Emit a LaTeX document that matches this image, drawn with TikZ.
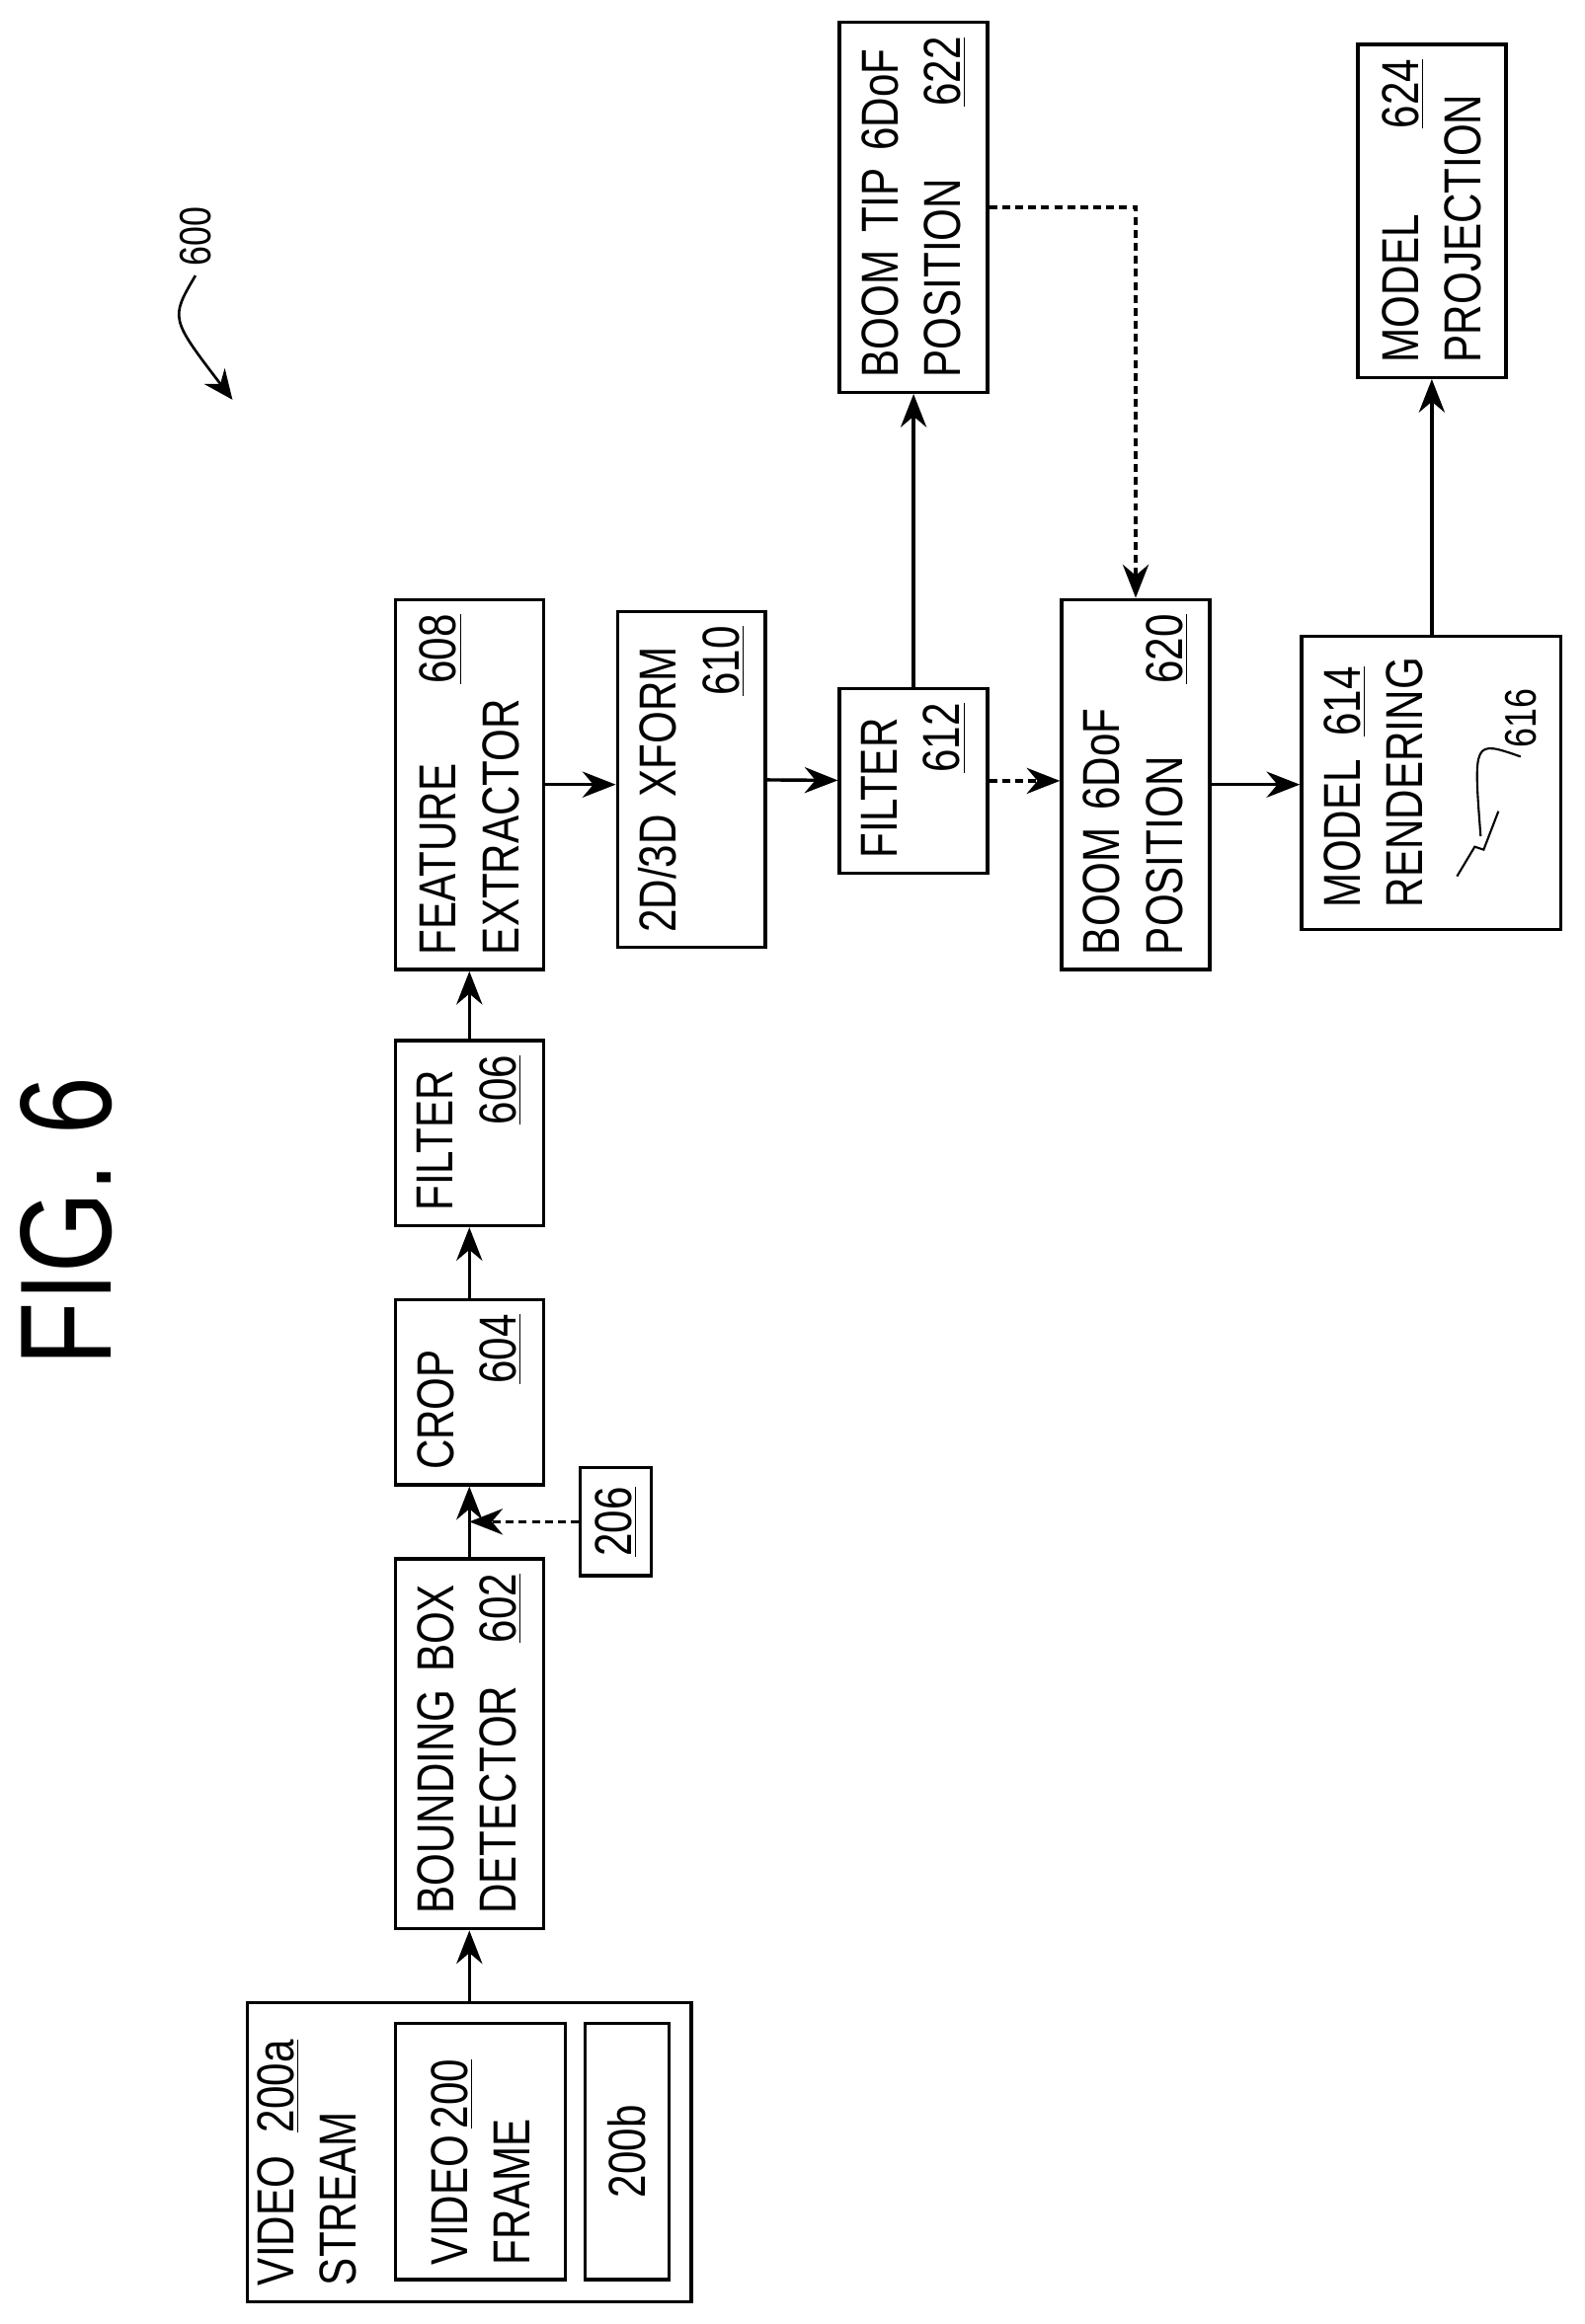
\documentclass[tikz,border=0pt]{standalone}
\usepackage{fontspec}
\setmainfont[FakeStretch=0.8]{Liberation Sans}
\usetikzlibrary{arrows.meta,positioning,calc}
\newcommand{\fs}{\fontsize{20}{24}\selectfont}
\newcommand{\un}[1]{\underline{#1}}
\tikzset{
  box/.style={draw,line width=1.3pt,rotate=90,align=left,font=\fs,inner sep=0.2cm},
  flow/.style={line width=1.3pt,-{Stealth[length=0.45cm,width=0.35cm]}},
  dflow/.style={flow,dash pattern=on 3pt off 2pt},
}
\begin{document}
\begin{tikzpicture}[x=0.02cm,y=0.02cm]
  \useasboundingbox (0,0) rectangle (1070,-1570);
  % figure label
  \node[rotate=90,font=\fontsize{50}{56}\selectfont] (fig) at (45,-825) {FIG. 6};
  \node[rotate=90,font=\fontsize{17}{20}\selectfont] (ref600) at (132,-160) {600};
  \coordinate (p600) at (157,-270);
  \draw[line width=1pt,-{Stealth[length=0.4cm,width=0.35cm]}] (ref600.west) .. controls (115,-215) .. (p600);

  % video stream
  \node[box,minimum width=4.04cm,minimum height=6cm] (vs) at (317,-1454) {};
  \node[rotate=90,font=\fs,align=left,text width=3.6cm,anchor=north,inner sep=0.15cm] (vst) at (vs.north)
    {VIDEO\hfill\un{200a}\phantom{x}\\STREAM};
  \node[box,text width=3.06cm,minimum height=2.3cm] (vf) at (324.5,-1453.5)
    {VIDEO\hfill\un{200}\phantom{x}\\FRAME};
  \node[box,text width=3.06cm,minimum height=1.14cm,align=center] (vb) at (423.5,-1453.5) {200b};

  % main chain
  \node[box,text width=4.6cm,minimum height=2cm] (bbd) at (317,-1178)
    {BOUNDING BOX\\DETECTOR\hfill\un{602}};
  \node[box,text width=2.1cm,minimum height=2cm] (crop) at (317,-940.5)
    {CROP\\\hfill\un{604}};
  \node[box,text width=2.1cm,minimum height=2cm] (fil1) at (317,-765.5)
    {FILTER\\\hfill\un{606}};
  \node[box,text width=4.6cm,minimum height=2cm] (fex) at (317,-530)
    {FEATURE\hfill\un{608}\\EXTRACTOR};
  \node[box,text width=4.14cm,minimum height=2cm] (xf) at (467,-526.5)
    {2D/3D XFORM\\\hfill\un{610}};
  \node[box,text width=2.1cm,minimum height=2cm] (fil2) at (617,-527.5)
    {FILTER\\\hfill\un{612}};
  \node[box,text width=4.6cm,minimum height=2cm] (boom) at (767,-530)
    {BOOM 6DoF\\POSITION\hfill\un{620}};
  \node[box,text width=4.6cm,minimum height=2cm] (tip) at (617,-140)
    {BOOM TIP 6DoF\\POSITION\hfill\un{622}};
  \node[box,minimum width=3.96cm,minimum height=3.5cm] (rend) at (966.5,-529) {};
  \node[rotate=90,font=\fs,align=left,anchor=north west] (rendt) at ([xshift=0.2cm,yshift=0.2cm]rend.north west)
    {MODEL\ \ \un{614}\\RENDERING};
  \node[box,text width=4.1cm,minimum height=2cm] (proj) at (967,-142.5)
    {MODEL\hfill\un{624}\\PROJECTION};
  \node[box,inner sep=0.12cm,minimum width=1.46cm,minimum height=0.96cm] (r206) at (416,-1028) {\un{206}};

  % 616 callout
  \node[rotate=90,font=\fontsize{17}{20}\selectfont] (ref616) at (1027,-485) {616};
  \coordinate (p616) at (1000,-565);
  \draw[line width=0.8pt] (ref616.west) .. controls (995,-500) .. (p616);
  \draw[line width=0.8pt] (984,-592) -- (996,-572) -- (1002,-574) -- (1012,-548);

  % connectors
  \draw[flow] (vs) -- (bbd);
  \draw[flow] (bbd) -- (crop);
  \coordinate (j206) at (317,-1028);
  \draw[dflow] (r206) -- (j206);
  \draw[flow] (crop) -- (fil1);
  \draw[flow] (fil1) -- (fex);
  \draw[flow] (fex.south) -- (xf.north |- fex.south);
  \draw[flow] (xf) -- (fil2);
  \draw[dflow] (fil2.south) -- (boom.north |- fil2.south);
  \draw[flow] (fil2) -- (tip);
  \coordinate (bend) at (767,-140);
  \draw[dflow] (tip.south) -- (bend) -- (boom.east);
  \draw[flow] (boom.south) -- (rend.north |- boom.south);
  \draw[flow] (rend.east -| proj) -- (proj.west);
\end{tikzpicture}
\end{document}
